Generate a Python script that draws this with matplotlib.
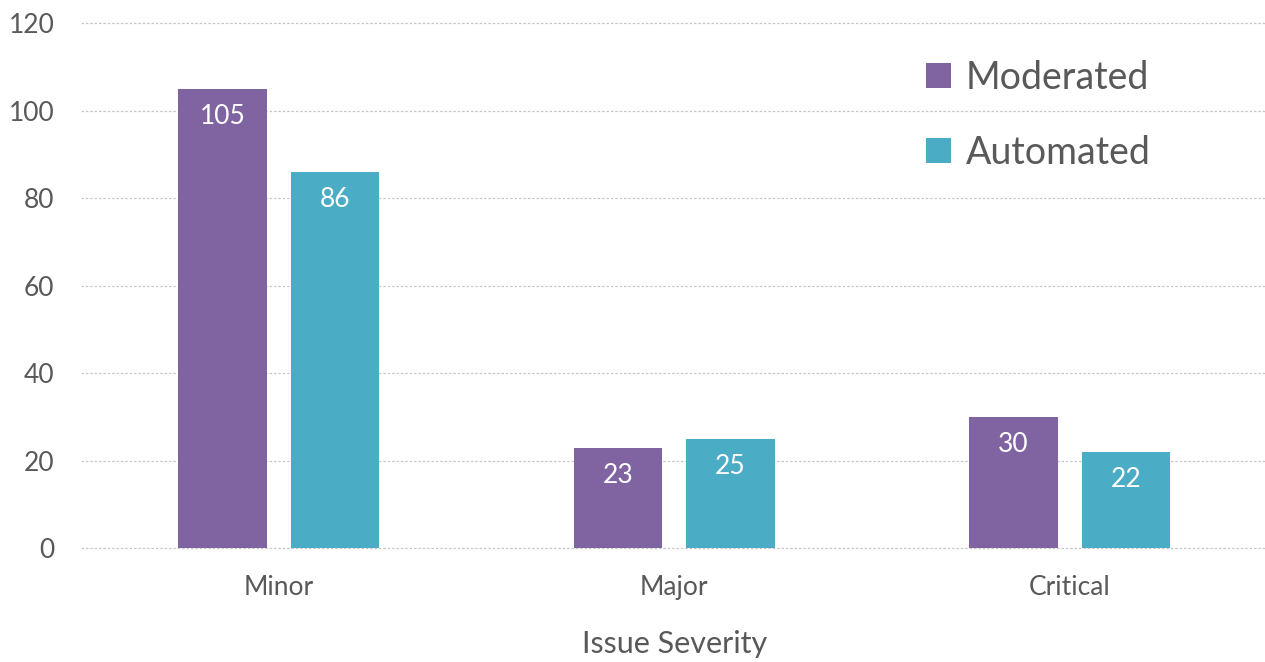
import numpy as np
import matplotlib.pyplot as plt

categories = ["Minor", "Major", "Critical"]
moderated = [105, 23, 30]
automated = [86, 25, 22]
series_names = ["Moderated", "Automated"]
y_ticks = [0, 20, 40, 60, 80, 100, 120]

plt.rcParams["font.family"] = ["Lato", "DejaVu Sans"]
text_color = "#595959"
colors = ["#8064A2", "#4BACC6"]

fig = plt.figure(figsize=(12.65, 6.62), dpi=100)
ax = fig.add_axes([0.064, 0.172, 0.938, 0.793])

x = np.arange(len(categories))
width = 0.224
offset = 0.142

for vals, shift, color, name in ((moderated, -offset, colors[0], series_names[0]),
                                 (automated, offset, colors[1], series_names[1])):
    bars = ax.bar(x + shift, vals, width, color=color, label=name, zorder=3)
    for b, v in zip(bars, vals):
        ax.annotate(str(v), (b.get_x() + b.get_width() / 2, v),
                    xytext=(0, -28), textcoords="offset pixels",
                    ha="center", va="center", color="white", fontsize=19, zorder=4)

ax.set_xlim(-0.5, 2.5)
ax.set_ylim(0, 120)
ax.set_yticks(y_ticks)
ax.set_xticks(x)
ax.set_xticklabels(categories)
ax.tick_params(axis="both", length=0, labelsize=19, labelcolor=text_color)
ax.tick_params(axis="x", pad=19)
ax.tick_params(axis="y", pad=19)

ax.grid(axis="y", color="#c8c8c8", linestyle=(0, (2, 1.5)), linewidth=0.9, zorder=0)
for gl in ax.get_ygridlines():
    gl.set_clip_on(False)
for s in ax.spines.values():
    s.set_visible(False)

ax.set_xlabel("Issue Severity", fontsize=22, color=text_color, labelpad=22)

leg = ax.legend(loc="upper right", bbox_to_anchor=(0.93, 0.995), frameon=False,
                fontsize=27, handlelength=0.65, handleheight=0.65, handletextpad=0.4,
                labelspacing=1.05, labelcolor=text_color)

fig.savefig("out.png", dpi=100)
